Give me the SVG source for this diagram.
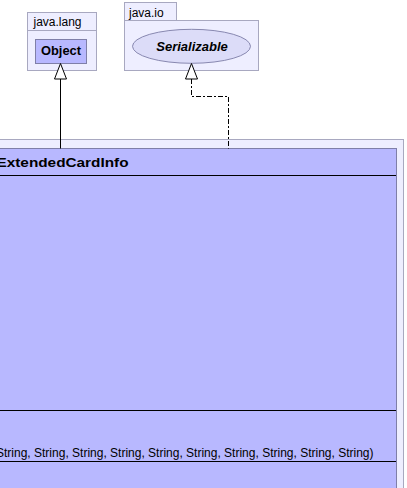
<svg xmlns="http://www.w3.org/2000/svg" width="407" height="488" viewBox="0 0 407 488">
<style>
.pkg{fill:#eeeeff;stroke:#a8a8c0;stroke-width:1}
.cls{fill:#b8b8ff;stroke:#7f7fa8;stroke-width:1}
.sep{stroke:#000;stroke-width:1}
.t{font-family:"Liberation Sans",Arial,sans-serif;font-size:12px;fill:#000}
.b{font-weight:bold}
.edge{fill:none;stroke:#000;stroke-width:1}
.dash{stroke-dasharray:5,2,2,2}
.tri{fill:#fff;stroke:#000;stroke-width:1}
</style>
<rect width="407" height="488" fill="#fff"/>
<g id="pkg-java-lang">
<rect class="pkg" x="27.5" y="12.5" width="69" height="18"/>
<rect class="pkg" x="27.5" y="30.5" width="69" height="40"/>
<text class="t" x="33.5" y="25.5">java.lang</text>
</g>
<g id="node-object">
<rect class="cls" x="35.5" y="39.5" width="51" height="24" stroke="#7070a0"/>
<text class="t b" x="61" y="54.5" text-anchor="middle" textLength="40" lengthAdjust="spacingAndGlyphs">Object</text>
</g>
<g id="pkg-java-io">
<rect class="pkg" x="124.5" y="2.5" width="52" height="18"/>
<rect class="pkg" x="124.5" y="20.5" width="134" height="50"/>
<text class="t" x="129" y="16.5">java.io</text>
</g>
<g id="node-serializable">
<ellipse cx="191.5" cy="46.3" rx="59" ry="17" fill="#dcdcf8" stroke="#8888b0"/>
<text class="t b" x="192" y="50.8" text-anchor="middle" font-style="italic" font-size="13" textLength="71.5" lengthAdjust="spacingAndGlyphs">Serializable</text>
</g>
<g id="pkg-outer">
<rect class="pkg" x="-10" y="139.5" width="413.5" height="360"/>
</g>
<g id="node-extendedcardinfo">
<rect class="cls" x="-10" y="148.5" width="406.5" height="350"/>
<line class="sep" x1="-10" y1="175.5" x2="396" y2="175.5"/>
<line class="sep" x1="-10" y1="410.5" x2="396" y2="410.5"/>
<line class="sep" x1="-10" y1="461.5" x2="396" y2="461.5"/>
<text class="t b" x="-3.5" y="167" font-size="14" textLength="132" lengthAdjust="spacingAndGlyphs">ExtendedCardInfo</text>
<text class="t" x="373.5" y="456.5" text-anchor="end">String, String, String, String, String, String, String, String, String, String)</text>
</g>
<g id="connectors">
<line class="edge" x1="60.5" y1="79" x2="60.5" y2="148.5"/>
<polygon class="tri" points="60.5,63.5 54.5,79 66.5,79"/>
<polyline class="edge dash" points="191.5,79 191.5,96.5 228.5,96.5 228.5,148.5"/>
<polygon class="tri" points="191.5,63.5 185.5,79 197.5,79"/>
</g>
</svg>
